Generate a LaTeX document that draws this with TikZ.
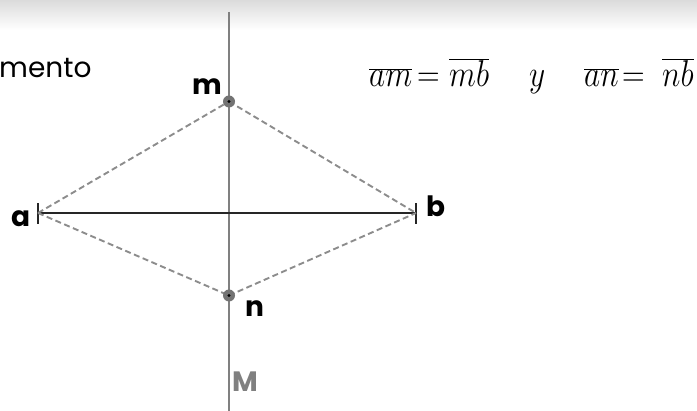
\documentclass[tikz,border=0pt]{standalone}
\usepackage{graphicx}
\usepackage{fontspec}
\newfontfamily\labfont{Poppins}
\newcommand{\bigeq}[1]{\scalebox{1.26}[1.5]{\fontsize{24.88}{28}\selectfont$#1$}}
\begin{document}
\begin{tikzpicture}[x=1pt,y=-1pt,
  lbl/.style={font=\labfont\bfseries\fontsize{28}{30}\selectfont, inner sep=0pt, anchor=base west},
  eq/.style={inner sep=0pt, anchor=base west},
  axisline/.style={draw=black!50, line width=2pt},
  seg/.style={draw=black!85, line width=1.7pt},
  tickmark/.style={draw=black!85, line width=1.7pt},
  dline/.style={draw=black!45, line width=1.9pt, dash pattern=on 6pt off 3.5pt},
  pt/.style={circle, fill=black!55, minimum size=12pt, inner sep=0pt}]
\useasboundingbox (0,0) rectangle (697,411);
\shade[top color=black!14, bottom color=white] (0,0) rectangle (697,30);
% coordinates
\coordinate (top) at (229,12);
\coordinate (bot) at (229,411);
\coordinate (a) at (38,213);
\coordinate (b) at (416,213);
\coordinate (at1) at (38,203.5);
\coordinate (at2) at (38,224.5);
\coordinate (bt1) at (416,203.5);
\coordinate (bt2) at (416,224.5);
\coordinate (mc) at (229,101.5);
\coordinate (nc) at (229,295.5);
% mediatrix
\draw[axisline] (top) -- (bot);
% segment
\draw[seg] (a) -- (b);
\draw[tickmark] (at1) -- (at2);
\draw[tickmark] (bt1) -- (bt2);
% dashed
\draw[dline] (a) -- (mc);
\draw[dline] (mc) -- (b);
\draw[dline] (a) -- (nc);
\draw[dline] (nc) -- (b);
% points
\node[pt] (m) at (mc) {};
\node[pt] (n) at (nc) {};
\fill[black] (mc) circle (1.7pt);
\fill[black] (nc) circle (1.7pt);
% labels
\node[lbl] (lm) at (192,95) {m};
\node[lbl] (ln) at (245,317) {n};
\node[lbl] (la) at (11,227) {a};
\node[lbl] (lb) at (426,217) {b};
\node[lbl, text=black!50] (lM) at (232,392) {M};
\node[font=\labfont\fontsize{28}{30}\selectfont, inner sep=0pt, anchor=base west] (txt) at (-1,78) {mento};
% equation
\node[eq] (e1) at (369,87) {\bigeq{\overline{am}}};
\node[eq] (e2) at (417,87) {\bigeq{=}};
\node[eq] (e3) at (449,87) {\bigeq{\overline{mb}}};
\node[eq] (e4) at (529,87) {\bigeq{y}};
\node[eq] (e5) at (584,87) {\bigeq{\overline{an}}};
\node[eq] (e6) at (622,87) {\bigeq{=}};
\node[eq] (e7) at (662,87) {\bigeq{\overline{nb}}};
\end{tikzpicture}
\end{document}
